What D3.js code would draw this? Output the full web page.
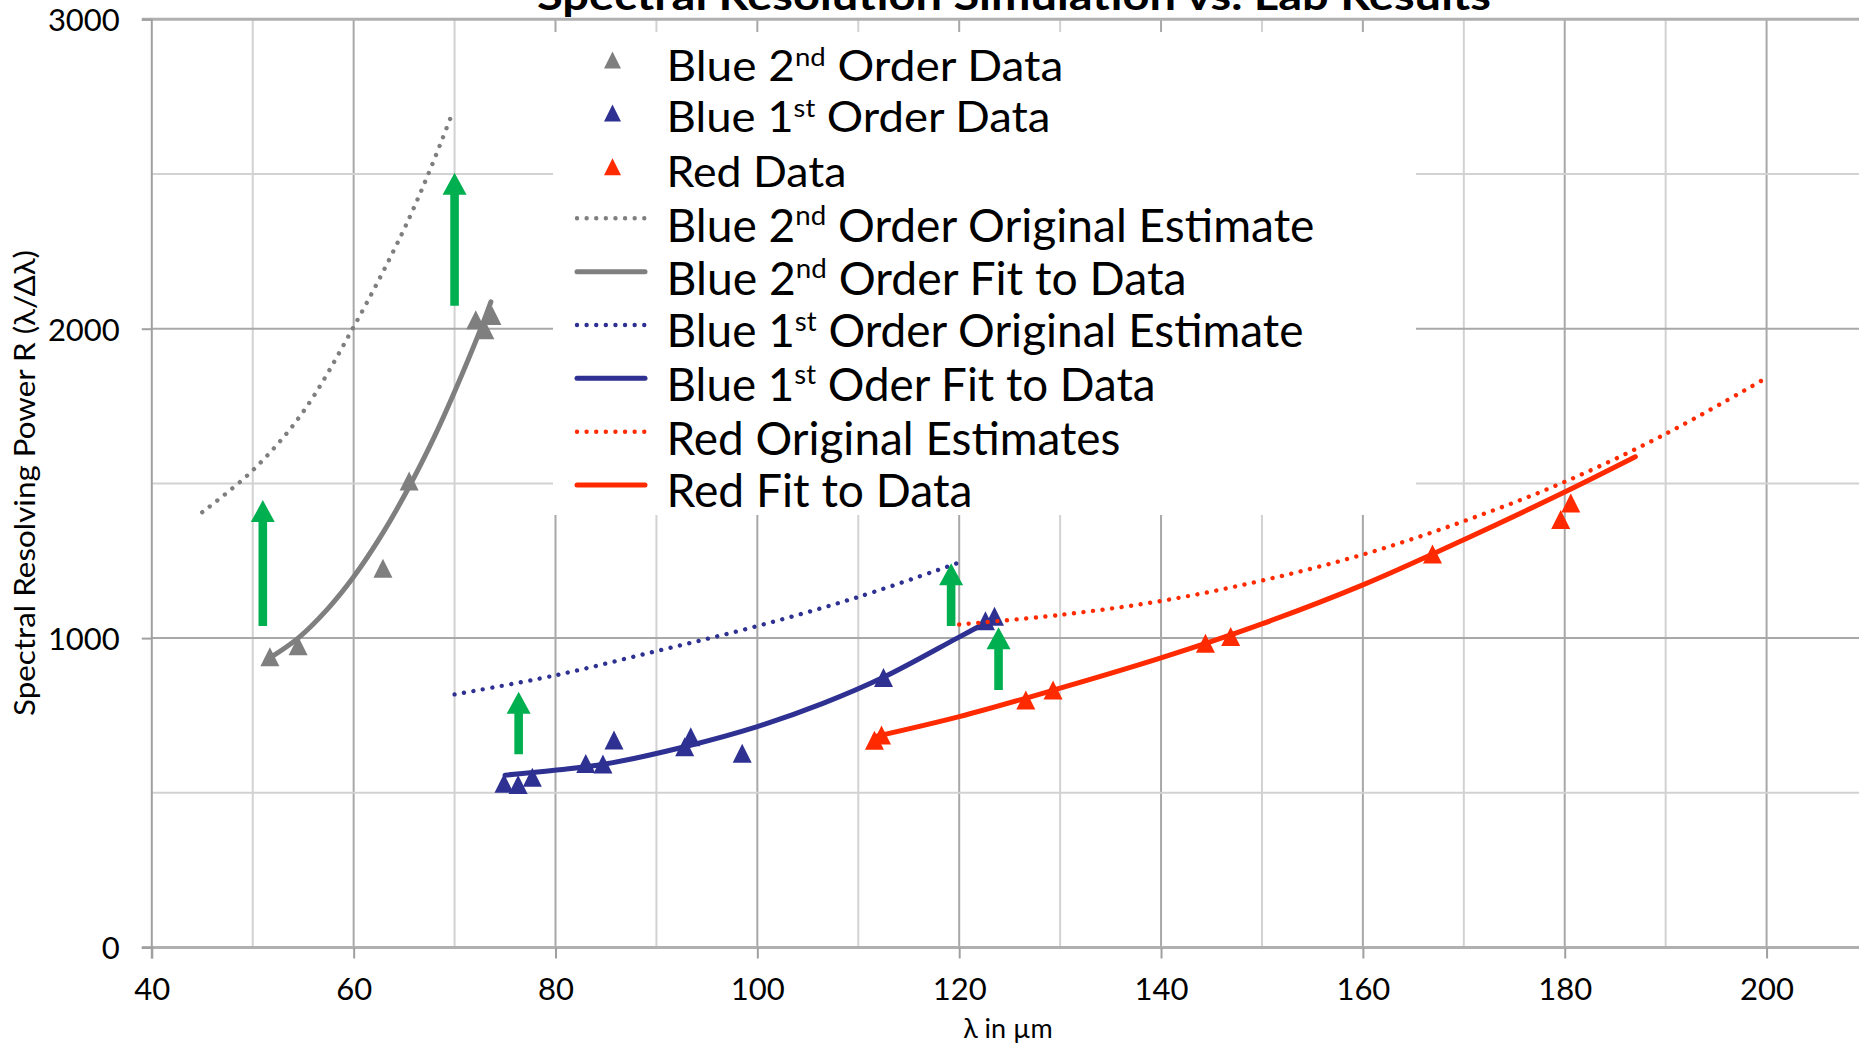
<!DOCTYPE html>
<html>
<head>
<meta charset="utf-8">
<script src="https://cdn.jsdelivr.net/npm/d3@7"></script>
<style>
  html, body { margin: 0; padding: 0; background: #fff; overflow: hidden; }
  svg text { font-family: "Lato", "Noto Sans", sans-serif; fill: #000; }
</style>
</head>
<body>
<svg id="chart" width="1859" height="1050"></svg>
<script>
// Spectral resolving power R = λ/Δλ against wavelength λ (µm)

const xTicks = [40, 60, 80, 100, 120, 140, 160, 180, 200];
const yTicks = [0, 1000, 2000, 3000];

// measured points [λ, R]
const blue2Data = [[51.7, 940], [54.5, 975], [62.9, 1226], [65.5, 1508], [72.1, 2029], [73.0, 1997], [73.7, 2043]];
const blue1Data = [[74.9, 531], [76.3, 527], [77.7, 550], [83.0, 595], [84.7, 593], [85.8, 671],
                   [92.8, 649], [93.4, 681], [98.5, 628], [112.5, 873], [122.6, 1056], [123.5, 1071]];
const redData   = [[111.6, 670], [112.3, 687], [126.6, 800], [129.3, 832], [144.4, 983], [146.9, 1005],
                   [166.9, 1272], [179.6, 1383], [180.6, 1437]];

// original estimates [λ, R]
const blue2Est = [[45.0, 1407], [50.0, 1542], [54.9, 1727], [60.0, 2006], [64.8, 2308], [67.4, 2500], [69.7, 2690]];
const blue1Est = [[70.0, 818], [79.75, 878], [90.0, 958], [100.0, 1039], [110.1, 1134], [119.8, 1242]];
const redEst   = [[120.0, 1044], [130.0, 1075], [140.0, 1120], [150.0, 1186], [160.0, 1270], [170.0, 1378],
                  [180.0, 1505], [190.0, 1660], [199.6, 1834]];

// fits to the data [λ, R]
const blue2Fit = [[51.4, 930], [54.5, 1000], [57.5, 1097], [60.0, 1198], [62.9, 1340], [65.5, 1489], [68.0, 1651], [70.0, 1796], [72.55, 1996], [73.6, 2087]];
const blue1Fit = [[75.0, 557], [79.9, 573], [84.9, 593], [92.8, 649], [100.0, 714], [106.5, 789], [112.6, 875], [119.8, 1000], [123.5, 1065]];
const redFit   = [[111.6, 681], [120.0, 746], [130.0, 838], [140.0, 936], [150.0, 1046], [160.0, 1172], [170.0, 1318], [180.0, 1472], [187.0, 1586]];

// improvement arrows [λ, R from, R to]
const arrows = [[51.0, 1039, 1446], [70.0, 2074, 2504], [76.35, 625, 827], [119.2, 1039, 1242], [123.9, 832, 1035]];

const titleText = "Spectral Resolution Simulation vs. Lab Results";
const xTitle = "λ in µm";
const yTitle = "Spectral Resolving Power R (λ/Δλ)";

const legendLabels = [
  ["Blue 2", "nd", " Order Data"],
  ["Blue 1", "st", " Order Data"],
  ["Red Data"],
  ["Blue 2", "nd", " Order Original Estimate"],
  ["Blue 2", "nd", " Order Fit to Data"],
  ["Blue 1", "st", " Order Original Estimate"],
  ["Blue 1", "st", " Oder Fit to Data"],
  ["Red Original Estimates"],
  ["Red Fit to Data"]
];

// ---------------------------------------------------------------
const GREY = "#7f7f7f", NAVY = "#2e3192", RED = "#ff2a00", GREEN = "#00b050";

const svg = d3.select("#chart");
const x = d3.scaleLinear().domain([40, 210]).range([151.8, 1867.5]);
const y = d3.scaleLinear().domain([0, 3000]).range([947.5, 19.3]);

// gridlines
const grid = svg.append("g");
grid.selectAll("line.v").data(x.ticks(17).filter(v => v > 40)).join("line")
  .attr("x1", d => x(d)).attr("x2", d => x(d))
  .attr("y1", y(3000)).attr("y2", y(0))
  .attr("stroke", d => d % 20 === 0 ? "#a8a8a8" : "#d2d2d2")
  .attr("stroke-width", 2);
grid.selectAll("line.h").data(y.ticks(6).filter(v => v > 0 && v < 3000)).join("line")
  .attr("x1", x(40)).attr("x2", 1859)
  .attr("y1", d => y(d)).attr("y2", d => y(d))
  .attr("stroke", d => d % 1000 === 0 ? "#a8a8a8" : "#d2d2d2")
  .attr("stroke-width", 2);

// frame lines
svg.append("line").attr("x1", x(40) - 10).attr("x2", 1859).attr("y1", y(3000)).attr("y2", y(3000))
  .attr("stroke", "#b0b0b0").attr("stroke-width", 3);
svg.append("line").attr("x1", x(40) - 10).attr("x2", 1859).attr("y1", y(0)).attr("y2", y(0))
  .attr("stroke", "#b0b0b0").attr("stroke-width", 3);
svg.append("line").attr("x1", x(40)).attr("x2", x(40)).attr("y1", y(3000)).attr("y2", y(0) + 11)
  .attr("stroke", "#a0a0a0").attr("stroke-width", 2);

// axes
const yAxis = svg.append("g").attr("transform", `translate(${x(40)},0)`)
  .call(d3.axisLeft(y).tickValues(yTicks).tickFormat(d3.format("d")).tickSize(10).tickPadding(22));
const xAxis = svg.append("g").attr("transform", `translate(0,${y(0)})`)
  .call(d3.axisBottom(x).tickValues(xTicks).tickFormat(d3.format("d")).tickSize(11).tickPadding(19));
[yAxis, xAxis].forEach(a => {
  a.attr("font-family", null).attr("font-size", null);
  a.select(".domain").remove();
  a.selectAll(".tick line").attr("stroke", "#a0a0a0").attr("stroke-width", 2);
  a.selectAll(".tick text").attr("font-size", 31);
});
yAxis.selectAll(".tick text").attr("dy", "0.37em");

// axis titles
svg.append("text").attr("x", 1008).attr("y", 1038)
  .attr("text-anchor", "middle").attr("font-size", 27).text(xTitle);
svg.append("text").attr("transform", "translate(35,483) rotate(-90)")
  .attr("text-anchor", "middle").attr("font-size", 28)
  .attr("textLength", 466).attr("lengthAdjust", "spacingAndGlyphs").text(yTitle);

// title
svg.append("text").attr("x", 1014).attr("y", 10).attr("text-anchor", "middle")
  .attr("font-size", 40).attr("font-weight", "bold")
  .attr("textLength", 954).attr("lengthAdjust", "spacingAndGlyphs").text(titleText);

// legend panel
svg.append("rect").attr("x", 553).attr("y", 32).attr("width", 863).attr("height", 483).attr("fill", "#fff");

// series drawing helpers
const line = d3.line().x(d => x(d[0])).y(d => y(d[1])).curve(d3.curveCatmullRom.alpha(0.5));
const dotted = { "stroke-width": 4.4, "stroke-dasharray": "0.01 9.6", "stroke-linecap": "round" };
const solid = { "stroke-width": 5, "stroke-linecap": "round" };

function tri(cx, cy, w, h) {
  return `M${cx},${cy - h / 2}L${cx + w / 2},${cy + h / 2}L${cx - w / 2},${cy + h / 2}Z`;
}
function drawMarkers(data, color) {
  svg.append("g").selectAll("path").data(data).join("path")
    .attr("d", d => tri(x(d[0]), y(d[1]), 19, 19)).attr("fill", color);
}
function drawLine(data, color, style) {
  const p = svg.append("path").datum(data).attr("d", line).attr("fill", "none").attr("stroke", color);
  Object.entries(style).forEach(([k, v]) => p.attr(k, v));
}

drawMarkers(blue2Data, GREY);
drawMarkers(blue1Data, NAVY);
drawMarkers(redData, RED);
drawLine(blue2Est, GREY, dotted);
drawLine(blue2Fit, GREY, solid);
drawLine(blue1Est, NAVY, dotted);
drawLine(blue1Fit, NAVY, solid);
drawLine(redEst, RED, dotted);
drawLine(redFit, RED, solid);

// arrows
function arrowPath(d) {
  const cx = x(d[0]), y0 = y(d[1]), y1 = y(d[2]);
  const sw = 4.3, hw = 12, hl = 22;
  return `M${cx - sw},${y0}L${cx - sw},${y1 + hl}L${cx - hw},${y1 + hl}L${cx},${y1}` +
         `L${cx + hw},${y1 + hl}L${cx + sw},${y1 + hl}L${cx + sw},${y0}Z`;
}
svg.append("g").selectAll("path").data(arrows).join("path").attr("d", arrowPath).attr("fill", GREEN);

// legend entries
const legendStyle = [
  { kind: "marker", color: GREY }, { kind: "marker", color: NAVY }, { kind: "marker", color: RED },
  { kind: "dotted", color: GREY }, { kind: "solid", color: GREY },
  { kind: "dotted", color: NAVY }, { kind: "solid", color: NAVY },
  { kind: "dotted", color: RED }, { kind: "solid", color: RED }
];
const legendBaseline = [81, 131.7, 186.7, 241.7, 295, 347.3, 400.7, 455, 506.7];
const legendSymbolY = [60, 113, 166.7, 218.3, 271.7, 325, 378.3, 431.7, 485];
const legendWidth = [397, 384, 180, 648, 520, 637, 489, 454, 306];
const legendFont = [38, 38, 38, 43, 43, 43, 43, 43, 43];

function fillLegendText(t, parts, fs) {
  t.selectAll("*").remove();
  t.text(null).attr("font-size", fs);
  if (parts.length === 1) {
    t.text(parts[0]);
  } else {
    t.append("tspan").text(parts[0]);
    t.append("tspan").attr("font-size", fs * 0.6).attr("dy", -fs * 0.36).text(parts[1]);
    t.append("tspan").attr("font-size", fs).attr("dy", fs * 0.36).text(parts[2]);
  }
}

const lg = svg.append("g");
legendLabels.forEach((parts, i) => {
  const st = legendStyle[i], sy = legendSymbolY[i];
  if (st.kind === "marker") {
    lg.append("path").attr("d", tri(612.5, sy, 17, 17)).attr("fill", st.color);
  } else {
    const p = lg.append("line").attr("x1", 577).attr("x2", 645).attr("y1", sy).attr("y2", sy)
      .attr("stroke", st.color);
    Object.entries(st.kind === "dotted" ? dotted : solid).forEach(([k, v]) => p.attr(k, v));
  }
  const t = lg.append("text").attr("x", 666.5).attr("y", legendBaseline[i]);
  // size the label so that it spans the width the panel layout expects
  let fs = legendFont[i];
  fillLegendText(t, parts, fs);
  const w = t.node().getComputedTextLength();
  const k = Math.max(0.9, Math.min(1.1, legendWidth[i] / w));
  fillLegendText(t, parts, fs * k);
  const w2 = t.node().getComputedTextLength();
  t.attr("transform", `translate(666.5,0) scale(${legendWidth[i] / w2},1) translate(-666.5,0)`);
});
</script>
</body>
</html>
